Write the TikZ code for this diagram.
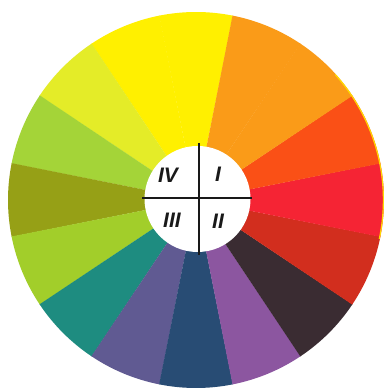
\documentclass[tikz,border=0pt]{standalone}
\usepackage{fontspec}
\usetikzlibrary{calc}
\newfontfamily\labelfont{Liberation Sans}
\definecolor{cYellow}{RGB}{255,240,0}
\definecolor{cPaleYG}{RGB}{228,236,40}
\definecolor{cLightGreen}{RGB}{164,212,56}
\definecolor{cOlive}{RGB}{150,160,22}
\definecolor{cYG}{RGB}{162,206,42}
\definecolor{cTeal}{RGB}{30,140,128}
\definecolor{cSlate}{RGB}{96,90,146}
\definecolor{cDarkBlue}{RGB}{40,76,116}
\definecolor{cPurple}{RGB}{140,86,160}
\definecolor{cBrown}{RGB}{58,44,50}
\definecolor{cDarkRed}{RGB}{210,46,30}
\definecolor{cRed}{RGB}{245,36,52}
\definecolor{cRedOrange}{RGB}{250,80,22}
\definecolor{cOrange}{RGB}{250,155,24}
\tikzset{
  crossline/.style={draw=black!90, line width=1.8pt},
  quadlabel/.style={font=\labelfont\bfseries\itshape\fontsize{21}{21}\selectfont, text=black!90, inner sep=0pt},
  hub/.style={circle, fill=white, minimum size=106pt, inner sep=0pt}
}
\begin{document}
\begin{tikzpicture}[x=1pt,y=1pt]
  \useasboundingbox (0,0) rectangle (383,391);
  \fill[white] (0,0) rectangle (383,391);
  \coordinate (C) at (196,191);
  \foreach \a/\c in {90/cYellow,112.5/cYellow,135/cPaleYG,157.5/cLightGreen,
                     180/cOlive,202.5/cYG,225/cTeal,247.5/cSlate,270/cDarkBlue,
                     292.5/cPurple,315/cBrown,337.5/cDarkRed,0/cRed,
                     22.5/cRedOrange,45/cOrange,67.5/cOrange}{
    \fill[\c] (C) -- ++(\a-11.3:188) arc[start angle=\a-11.3, end angle=\a+11.3, radius=188] -- cycle;
  }
  \draw[cYellow!80!orange, line width=1.2pt] ($(C)+(-12:187.4)$) arc[start angle=-12, end angle=42, radius=187.4];
  \node[hub] (hub) at (197.5,192) {};
  \coordinate (vt) at (199,248);
  \coordinate (vb) at (199,136);
  \coordinate (hl) at (142,193);
  \coordinate (hr) at (252,193);
  \draw[crossline] (vt) -- (vb);
  \draw[crossline] (hl) -- (hr);
  \node[quadlabel] (q4) at (168,216) {IV};
  \node[quadlabel] (q1) at (218,217) {I};
  \node[quadlabel] (q3) at (172,171) {III};
  \node[quadlabel] (q2) at (218,170) {II};
\end{tikzpicture}
\end{document}
